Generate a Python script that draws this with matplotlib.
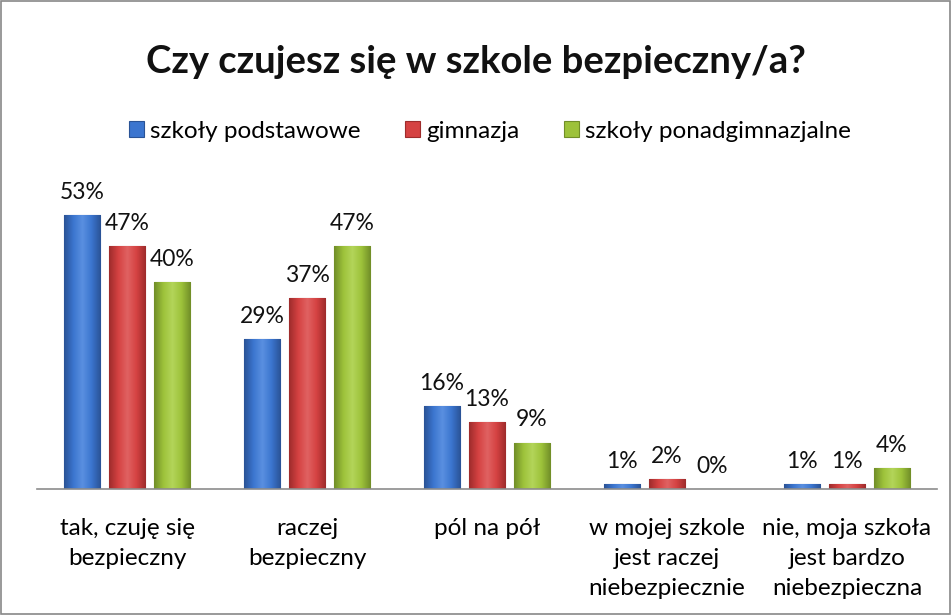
import matplotlib.pyplot as plt
import numpy as np
from matplotlib.patches import Rectangle
from matplotlib.colors import LinearSegmentedColormap

plt.rcParams['font.family'] = ['Lato', 'DejaVu Sans']

# data
categories = ['tak, czuję się\nbezpieczny', 'raczej\nbezpieczny', 'pól na pół',
              'w mojej szkole\njest raczej\nniebezpiecznie', 'nie, moja szkoła\njest bardzo\nniebezpieczna']
series = ['szkoły podstawowe', 'gimnazja', 'szkoły ponadgimnazjalne']
podstawowe = [53, 29, 16, 1, 1]
gimnazja = [47, 37, 13, 2, 1]
ponadgimn = [40, 47, 9, 0, 4]

colors = ['#3B75CF', '#D54242', '#9DC23A']
lights = ['#5A90E0', '#E06262', '#B3D55A']
edges = ['#2A5396', '#9E2C2C', '#718E28']

fig = plt.figure(figsize=(9.52, 6.15), dpi=100)
ax = fig.add_axes([37 / 952, (615 - 489) / 615, 900 / 952, 310 / 615])

x = np.arange(len(categories))
width = 0.205
grad = np.linspace(0, 1, 64).reshape(1, -1)
for i, (vals, name) in enumerate(zip([podstawowe, gimnazja, ponadgimn], series)):
    pos = x + (i - 1) * 0.25
    cmap = LinearSegmentedColormap.from_list(
        'b%d' % i, [edges[i], colors[i], lights[i], colors[i], edges[i]])
    bars = ax.bar(pos, vals, width, color=colors[i], edgecolor=edges[i],
                  linewidth=0.8, label=name, zorder=2)
    for b, v in zip(bars, vals):
        if v > 0:
            im = ax.imshow(grad, cmap=cmap, aspect='auto', zorder=2.5,
                           extent=[b.get_x(), b.get_x() + b.get_width(), 0, v])
            im.set_clip_path(b)
        ax.annotate(f'{v}%', (b.get_x() + b.get_width() / 2, v), xytext=(0, 16),
                    textcoords='offset pixels', ha='center', va='baseline',
                    fontsize=16.5, color='#111111')

ax.set_xlim(-0.5, len(categories) - 0.5)
ax.set_ylim(0, 60)
ax.set_yticks([])
ax.set_xticks(x)
ax.set_xticklabels(categories, fontsize=17.5, linespacing=1.52)
ax.tick_params(axis='x', length=0, pad=21)
for s in ['top', 'right', 'left']:
    ax.spines[s].set_visible(False)
ax.spines['bottom'].set_color('#8c8c8c')
ax.spines['bottom'].set_linewidth(1.2)
ax.spines['bottom'].set_zorder(3)

fig.text(0.5, 1 - 73 / 615, 'Czy czujesz się w szkole bezpieczny/a?', ha='center',
         va='baseline', fontsize=27.5, fontweight='bold', color='#111111')

fig.legend(loc='center', bbox_to_anchor=(490 / 952, 1 - 131 / 615), ncol=3, frameon=False,
           fontsize=17.5, handlelength=0.6, handleheight=0.6, handletextpad=0.25,
           columnspacing=1.85)

fig.patches.append(Rectangle((0.001, 0.001), 0.997, 0.997, transform=fig.transFigure,
                             fill=False, edgecolor='#888888', linewidth=1.2))

fig.savefig('out.png', dpi=100)
